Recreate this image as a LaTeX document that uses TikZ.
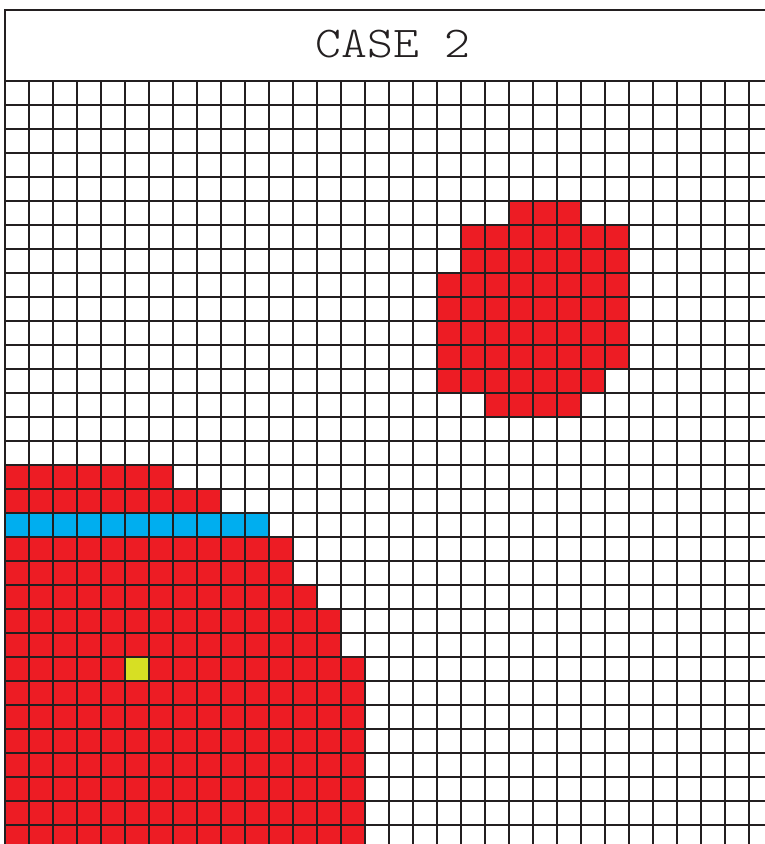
\documentclass[tikz,border=0pt]{standalone}
\usepackage{fontspec}
\usepackage{xcolor}
\newfontfamily\lightmono{lmmonolt10-regular.otf}
\definecolor{caseRed}{HTML}{ED1C24}
\definecolor{caseBlue}{HTML}{00AEEF}
\definecolor{caseYellow}{HTML}{D7DF23}
\definecolor{caseLine}{HTML}{231F20}

\begin{document}
\begin{tikzpicture}[
    x=18pt, y=-18pt,
    gridline/.style={draw=caseLine, line width=1.7pt, line cap=rect},
    hotcell/.style={fill=caseRed},
    edgecell/.style={fill=caseBlue},
    seedcell/.style={fill=caseYellow},
    titletext/.style={text=caseLine, font=\lightmono\fontsize{33}{40}\selectfont, xscale=1.12, transform shape}
]
    \useasboundingbox (-0.2083,-3.375) rectangle (31.667,31.792);
    \clip (-0.2083,-3.375) rectangle (31.667,31.792);

    \foreach \r/\a/\b in {5/21/23, 6/19/25, 7/19/25, 8/18/25, 9/18/25, 10/18/25, 11/18/25, 12/18/24, 13/20/23}
        \fill[hotcell] (\a,\r) rectangle (\b+1,\r+1);
    \foreach \r/\b in {16/6, 17/8, 19/11, 20/11, 21/12, 22/13, 23/13}
        \fill[hotcell] (0,\r) rectangle (\b+1,\r+1);
    \fill[hotcell] (0,24) rectangle (15,32);
    \fill[edgecell] (0,18) rectangle (11,19);
    \fill[seedcell] (5,24) rectangle (6,25);

    \foreach \i in {0,...,32}
        \draw[gridline] (\i,0) -- (\i,32);
    \foreach \j in {0,...,32}
        \draw[gridline] (0,\j) -- (32,\j);

    \draw[gridline] (0,-2.958) rectangle (32,0);
    \node[titletext] (title) at (16.17,-1.53) {CASE 2};
\end{tikzpicture}
\end{document}
